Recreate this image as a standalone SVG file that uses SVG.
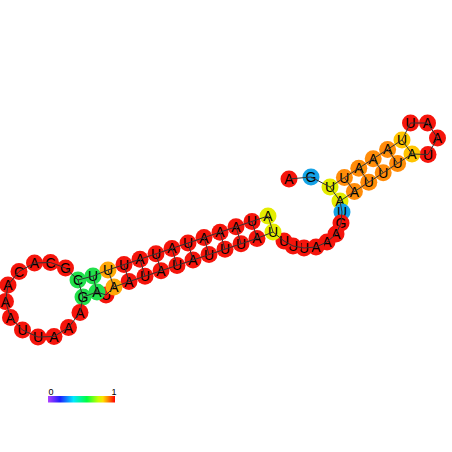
<svg xmlns="http://www.w3.org/2000/svg" width="452" height="452" viewBox="0 0 452 452">
<defs>
<style>
.n circle{stroke:none}
.n text{font-family:"Liberation Sans",Arial,sans-serif;font-size:14px;text-anchor:middle;fill:#000}
.r{fill:#f5150c}.o{fill:#ff8c0a}.a{fill:#ffa808}.yo{fill:#ffc400}.y{fill:#e4ec00}.g{fill:#22e04c}.b{fill:#14a2e6}
#conn line,#conn polyline{stroke:#333;stroke-width:1;fill:none}
.lbl{font-family:"Liberation Sans",Arial,sans-serif;font-size:9px;fill:#000;text-anchor:middle}
</style>
<linearGradient id="cb" x1="0" x2="1" y1="0" y2="0">
<stop offset="0" stop-color="#b040ff"/>
<stop offset="0.18" stop-color="#1e1eff"/>
<stop offset="0.38" stop-color="#00e8ff"/>
<stop offset="0.58" stop-color="#00ff40"/>
<stop offset="0.75" stop-color="#c8ff00"/>
<stop offset="0.82" stop-color="#ffe000"/>
<stop offset="0.9" stop-color="#ff8000"/>
<stop offset="1" stop-color="#ff0000"/>
</linearGradient>
</defs>
<rect width="452" height="452" fill="#fff"/>
<g id="nodes">
<g id="n1" class="n"><circle class="r" cx="289" cy="179" r="8.5"/><text x="289" y="184">A</text></g>
<g id="n2" class="n"><circle class="b" cx="311" cy="177" r="8.5"/><text x="311" y="182">G</text></g>
<g id="n3" class="n"><circle class="y" cx="330" cy="187" r="8.5"/><text x="330" y="192">U</text></g>
<g id="n4" class="n"><circle class="o" cx="344.4" cy="177.6" r="8.5"/><text x="344.4" y="182.6">U</text></g>
<g id="n5" class="n"><circle class="o" cx="358.8" cy="168.2" r="8.5"/><text x="358.8" y="173.2">A</text></g>
<g id="n6" class="n"><circle class="o" cx="373.2" cy="158.8" r="8.5"/><text x="373.2" y="163.8">A</text></g>
<g id="n7" class="n"><circle class="o" cx="387.6" cy="149.4" r="8.5"/><text x="387.6" y="154.4">A</text></g>
<g id="n8" class="n"><circle class="yo" cx="402" cy="140" r="8.5"/><text x="402" y="145">U</text></g>
<g id="n9" class="n"><circle class="r" cx="410.5" cy="123" r="8.5"/><text x="410.5" y="128">U</text></g>
<g id="n10" class="n"><circle class="r" cx="427.5" cy="123" r="8.5"/><text x="427.5" y="128">A</text></g>
<g id="n11" class="n"><circle class="r" cx="437.5" cy="138" r="8.5"/><text x="437.5" y="143">A</text></g>
<g id="n12" class="n"><circle class="r" cx="428" cy="154.5" r="8.5"/><text x="428" y="159.5">U</text></g>
<g id="n13" class="n"><circle class="yo" cx="412" cy="154" r="8.5"/><text x="412" y="159">A</text></g>
<g id="n14" class="n"><circle class="o" cx="397.6" cy="163.4" r="8.5"/><text x="397.6" y="168.4">U</text></g>
<g id="n15" class="n"><circle class="o" cx="383.2" cy="172.8" r="8.5"/><text x="383.2" y="177.8">U</text></g>
<g id="n16" class="n"><circle class="o" cx="368.8" cy="182.2" r="8.5"/><text x="368.8" y="187.2">U</text></g>
<g id="n17" class="n"><circle class="o" cx="354.4" cy="191.6" r="8.5"/><text x="354.4" y="196.6">A</text></g>
<g id="n18" class="n"><circle class="y" cx="340" cy="201" r="8.5"/><text x="340" y="206">A</text></g>
<g id="n19" class="n"><circle class="b" cx="342" cy="212" r="8.5"/><text x="342" y="217">U</text></g>
<g id="n20" class="n"><circle class="r" cx="341" cy="223" r="8.5"/><text x="341" y="228">G</text></g>
<g id="n21" class="n"><circle class="r" cx="336" cy="234" r="8.5"/><text x="336" y="239">A</text></g>
<g id="n22" class="n"><circle class="r" cx="327" cy="242" r="8.5"/><text x="327" y="247">A</text></g>
<g id="n23" class="n"><circle class="r" cx="316" cy="247" r="8.5"/><text x="316" y="252">A</text></g>
<g id="n24" class="n"><circle class="r" cx="304" cy="248" r="8.5"/><text x="304" y="253">U</text></g>
<g id="n25" class="n"><circle class="r" cx="293" cy="246" r="8.5"/><text x="293" y="251">U</text></g>
<g id="n26" class="n"><circle class="r" cx="284" cy="241" r="8.5"/><text x="284" y="246">U</text></g>
<g id="n27" class="n"><circle class="y" cx="273" cy="232" r="8.5"/><text x="273" y="237">U</text></g>
<g id="n28" class="n"><circle class="r" cx="257" cy="238.4" r="8.5"/><text x="257" y="243.4">A</text></g>
<g id="n29" class="n"><circle class="r" cx="241" cy="243.8" r="8.5"/><text x="241" y="248.8">U</text></g>
<g id="n30" class="n"><circle class="r" cx="225" cy="249.2" r="8.5"/><text x="225" y="254.2">U</text></g>
<g id="n31" class="n"><circle class="r" cx="209" cy="254.6" r="8.5"/><text x="209" y="259.6">U</text></g>
<g id="n32" class="n"><circle class="r" cx="193" cy="260" r="8.5"/><text x="193" y="265">A</text></g>
<g id="n33" class="n"><circle class="r" cx="177" cy="265.4" r="8.5"/><text x="177" y="270.4">U</text></g>
<g id="n34" class="n"><circle class="r" cx="161" cy="270.8" r="8.5"/><text x="161" y="275.8">A</text></g>
<g id="n35" class="n"><circle class="r" cx="145" cy="276.2" r="8.5"/><text x="145" y="281.2">U</text></g>
<g id="n36" class="n"><circle class="r" cx="129" cy="281.6" r="8.5"/><text x="129" y="286.6">A</text></g>
<g id="n38" class="n"><circle class="r" cx="106" cy="295" r="8.5"/><text x="106" y="300">U</text></g>
<g id="n37" class="n"><circle class="a" cx="114" cy="287" r="8.5"/><text x="114" y="292">A</text></g>
<g id="n39" class="n"><circle class="g" cx="97" cy="292" r="8.5"/><text x="97" y="297">A</text></g>
<g id="n40" class="n"><circle class="g" cx="83" cy="297" r="8.5"/><text x="83" y="302">G</text></g>
<g id="n41" class="n"><circle class="r" cx="80" cy="312.5" r="8.5"/><text x="80" y="317.5">A</text></g>
<g id="n42" class="n"><circle class="r" cx="68.5" cy="327.5" r="8.5"/><text x="68.5" y="332.5">A</text></g>
<g id="n43" class="n"><circle class="r" cx="54" cy="336.5" r="8.5"/><text x="54" y="341.5">A</text></g>
<g id="n44" class="n"><circle class="r" cx="38" cy="337" r="8.5"/><text x="38" y="342">U</text></g>
<g id="n45" class="n"><circle class="r" cx="22.5" cy="330" r="8.5"/><text x="22.5" y="335">U</text></g>
<g id="n46" class="n"><circle class="r" cx="10.5" cy="317.5" r="8.5"/><text x="10.5" y="322.5">A</text></g>
<g id="n47" class="n"><circle class="r" cx="5.5" cy="301.5" r="8.5"/><text x="5.5" y="306.5">A</text></g>
<g id="n48" class="n"><circle class="r" cx="8" cy="285" r="8.5"/><text x="8" y="290">A</text></g>
<g id="n49" class="n"><circle class="r" cx="19" cy="271.5" r="8.5"/><text x="19" y="276.5">C</text></g>
<g id="n50" class="n"><circle class="r" cx="34.5" cy="263" r="8.5"/><text x="34.5" y="268">A</text></g>
<g id="n51" class="n"><circle class="r" cx="50.5" cy="262.5" r="8.5"/><text x="50.5" y="267.5">C</text></g>
<g id="n52" class="n"><circle class="r" cx="65.5" cy="268" r="8.5"/><text x="65.5" y="273">G</text></g>
<g id="n53" class="n"><circle class="g" cx="78" cy="280" r="8.5"/><text x="78" y="285">C</text></g>
<g id="n54" class="n"><circle class="g" cx="93" cy="276" r="8.5"/><text x="93" y="281">U</text></g>
<g id="n55" class="n"><circle class="a" cx="108" cy="270" r="8.5"/><text x="108" y="275">U</text></g>
<g id="n56" class="n"><circle class="r" cx="124" cy="264.6" r="8.5"/><text x="124" y="269.6">U</text></g>
<g id="n57" class="n"><circle class="r" cx="140" cy="259.2" r="8.5"/><text x="140" y="264.2">A</text></g>
<g id="n58" class="n"><circle class="r" cx="156" cy="253.8" r="8.5"/><text x="156" y="258.8">U</text></g>
<g id="n59" class="n"><circle class="r" cx="172" cy="248.4" r="8.5"/><text x="172" y="253.4">A</text></g>
<g id="n60" class="n"><circle class="r" cx="188" cy="243" r="8.5"/><text x="188" y="248">U</text></g>
<g id="n61" class="n"><circle class="r" cx="204" cy="237.6" r="8.5"/><text x="204" y="242.6">A</text></g>
<g id="n62" class="n"><circle class="r" cx="220" cy="232.2" r="8.5"/><text x="220" y="237.2">A</text></g>
<g id="n63" class="n"><circle class="r" cx="236" cy="226.8" r="8.5"/><text x="236" y="231.8">A</text></g>
<g id="n64" class="n"><circle class="r" cx="252" cy="221.4" r="8.5"/><text x="252" y="226.4">U</text></g>
<g id="n65" class="n"><circle class="y" cx="268" cy="216" r="8.5"/><text x="268" y="221">A</text></g>
</g>
<g id="conn">
<polyline points="289,179 311,177 330,187 344.4,177.6 358.8,168.2 373.2,158.8 387.6,149.4 402,140 410.5,123 427.5,123 437.5,138 428,154.5 412,154 397.6,163.4 383.2,172.8 368.8,182.2 354.4,191.6 340,201 342,212 341,223 336,234 327,242 316,247 304,248 293,246 284,241 273,232 257,238.4 241,243.8 225,249.2 209,254.6 193,260 177,265.4 161,270.8 145,276.2 129,281.6 114,287 106,295 97,292 83,297 80,312.5 68.5,327.5 54,336.5 38,337 22.5,330 10.5,317.5 5.5,301.5 8,285 19,271.5 34.5,263 50.5,262.5 65.5,268 78,280 93,276 108,270 124,264.6 140,259.2 156,253.8 172,248.4 188,243 204,237.6 220,232.2 236,226.8 252,221.4 268,216"/>
<line x1="330" y1="187" x2="340" y2="201"/>
<line x1="344.4" y1="177.6" x2="354.4" y2="191.6"/>
<line x1="358.8" y1="168.2" x2="368.8" y2="182.2"/>
<line x1="373.2" y1="158.8" x2="383.2" y2="172.8"/>
<line x1="387.6" y1="149.4" x2="397.6" y2="163.4"/>
<line x1="402" y1="140" x2="412" y2="154"/>
<line x1="268" y1="216" x2="273" y2="232"/>
<line x1="252" y1="221.4" x2="257" y2="238.4"/>
<line x1="236" y1="226.8" x2="241" y2="243.8"/>
<line x1="220" y1="232.2" x2="225" y2="249.2"/>
<line x1="204" y1="237.6" x2="209" y2="254.6"/>
<line x1="188" y1="243" x2="193" y2="260"/>
<line x1="172" y1="248.4" x2="177" y2="265.4"/>
<line x1="156" y1="253.8" x2="161" y2="270.8"/>
<line x1="140" y1="259.2" x2="145" y2="276.2"/>
<line x1="124" y1="264.6" x2="129" y2="281.6"/>
<line x1="108" y1="270" x2="114" y2="287"/>
<line x1="93" y1="276" x2="97" y2="292"/>
<line x1="78" y1="280" x2="83" y2="297"/>
</g>
<g id="colorbar">
<rect x="48" y="396" width="67" height="6.5" fill="url(#cb)"/>
<text class="lbl" x="51" y="395">0</text>
<text class="lbl" x="114" y="395">1</text>
</g>
</svg>
